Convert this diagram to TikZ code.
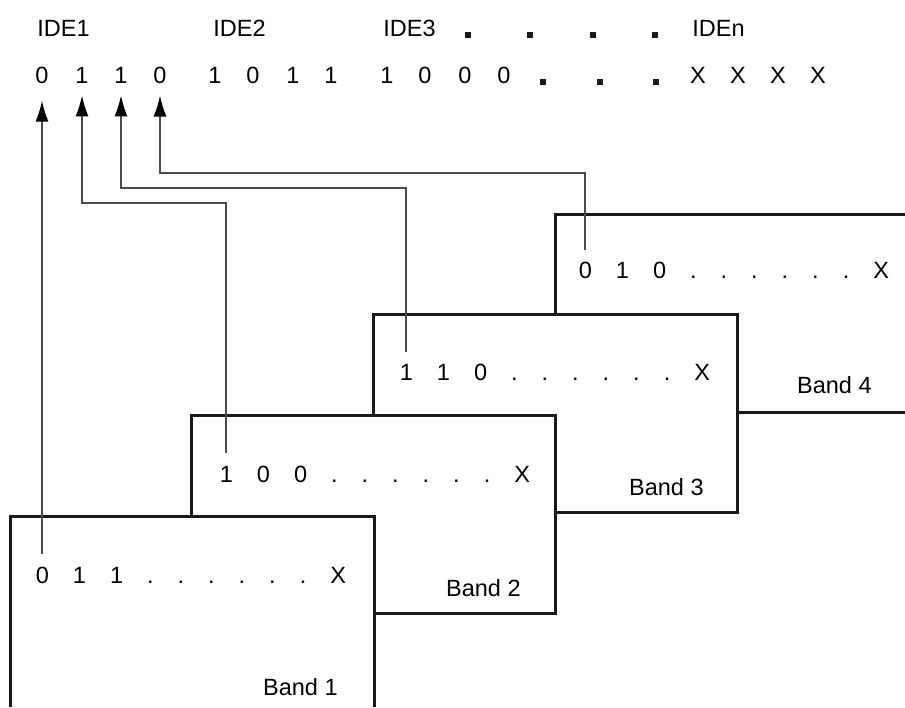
\documentclass[tikz,border=0pt]{standalone}
\usepackage{fontspec}
\setmainfont{Liberation Sans}
\usetikzlibrary{arrows.meta}

\newcommand{\basefont}{\fontsize{11.75}{14}\selectfont}
\newcommand{\rowfont}{\fontsize{11.75}{14}\selectfont\spaceskip=12pt\relax\xspaceskip=12pt\relax}

\tikzset{
  band/.style={line width=1.5pt, draw=black!90},
  link/.style={line width=0.8pt, draw=black!70},
  uptip/.style={-{Latex[length=10.5pt,width=6.5pt,black]}, shorten >=6pt},
  bit/.style={inner sep=0pt, anchor=base},
  bigdot/.style={fill=black!90, inner sep=0pt, minimum size=3pt},
  rowtext/.style={inner sep=0pt, anchor=base west, font=\rowfont},
  tag/.style={inner sep=0pt, anchor=base east}
}

\begin{document}
\begin{tikzpicture}[x=0.5pt, y=-0.5pt, every node/.style={font=\basefont}]
        \useasboundingbox (0,0) rectangle (905,707);

        % Code word labels
        \node[inner sep=0pt, anchor=base west] (ide1) at (37,36) {IDE1};
        \node[inner sep=0pt, anchor=base west] (ide2) at (213,36) {IDE2};
        \node[inner sep=0pt, anchor=base west] (ide3) at (383,36) {IDE3};
        \node[inner sep=0pt, anchor=base west] (iden) at (692,36) {IDEn};
        \foreach \x in {468,530,593,655}
          \node[bigdot] at (\x,34.5) {};

        % Code word bits
        \foreach \b/\x [count=\i] in {0/42,1/82,1/121,0/160,1/215,0/253,1/293,1/331,
                                       1/387,0/425,0/465,0/504,X/698,X/738,X/778,X/818}
          \node[bit] (t\i) at (\x,83) {\b};
        \foreach \x in {543,600,656}
          \node[bigdot] at (\x,81.5) {};

        % Band 1
        \draw[band] (10,707) -- (10,516) -- (374,516) -- (374,707);
        \node[rowtext] (row1) at (35.5,583) {0 1 1 . . . . . . X};
        \node[tag] (band1) at (338,695) {Band 1};

        % Band 2
        \draw[band] (191,516) -- (191,415) -- (555,415) -- (555,613) -- (374,613);
        \node[rowtext] (row2) at (219.5,482) {1 0 0 . . . . . . X};
        \node[tag] (band2) at (521,596) {Band 2};

        % Band 3
        \draw[band] (373,415) -- (373,314) -- (737,314) -- (737,512) -- (555,512);
        \node[rowtext] (row3) at (399.5,380) {1 1 0 . . . . . . X};
        \node[tag] (band3) at (704,495) {Band 3};

        % Band 4
        \draw[band] (555,314) -- (555,214) -- (905,214);
        \draw[band] (737,412) -- (905,412);
        \node[rowtext] (row4) at (578.5,278) {0 1 0 . . . . . . X};
        \node[tag] (band4) at (872,393) {Band 4};

        % Connectors
        \coordinate (r1) at (42,554);
        \coordinate (r2) at (226,453);
        \coordinate (r3) at (406,352);
        \coordinate (r4) at (585,250);
        \draw[link, uptip, shorten >=8.5pt] (r1) -- (t1);
        \draw[link, uptip] (r2) -- ++(0,-250) -| (t2);
        \draw[link, uptip] (r3) -- ++(0,-164) -| (t3);
        \draw[link, uptip] (r4) -- ++(0,-77) -| (t4);
    \end{tikzpicture}
\end{document}
